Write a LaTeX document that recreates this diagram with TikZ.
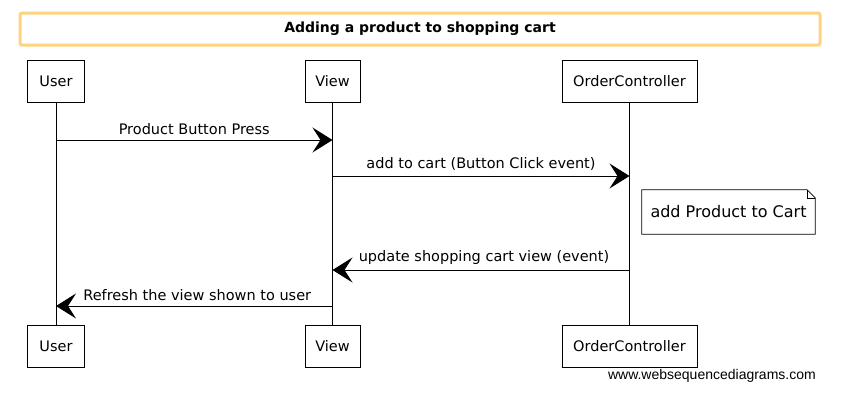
\documentclass[tikz,border=0pt]{standalone}
\usepackage{fontspec}
\setmainfont{DejaVu Sans}
\newfontfamily\wmfont{Liberation Sans}
\usetikzlibrary{arrows.meta,shapes.misc}
\definecolor{titleorange}{HTML}{FFD27F}
\tikzset{
  actor/.style={draw=black, line width=0.8pt, fill=white, minimum height=42pt, inner sep=0pt, font=\fontsize{14.5}{16}\selectfont},
  lifeline/.style={draw=black, line width=0.7pt},
  msg/.style={draw=black, line width=1pt, -{Stealth[length=20pt, width=25pt, inset=8pt]}},
  msglabel/.style={font=\fontsize{14.5}{17}\selectfont, inner sep=0pt},
}
\begin{document}
\begin{tikzpicture}[x=1pt,y=-1pt]
\useasboundingbox (0,0) rectangle (850,400);
% title
\node[draw=titleorange, line width=3pt, rounded corners=2pt, minimum width=800pt, minimum height=32pt, inner sep=0pt, font=\bfseries\fontsize{14}{16}\selectfont] (title) at (420,29) {Adding a product to shopping cart};
% participants
\node[actor, minimum width=57pt] (ut) at (56,81) {User};
\node[actor, minimum width=55pt] (vt) at (332.5,81) {View};
\node[actor, minimum width=135pt] (ot) at (629.5,81) {OrderController};
\node[actor, minimum width=57pt] (ub) at (56,346) {User};
\node[actor, minimum width=55pt] (vb) at (332.5,346) {View};
\node[actor, minimum width=135pt] (ob) at (629.5,346) {OrderController};
% lifelines
\draw[lifeline] (ut.south) -- (ub.north);
\draw[lifeline] (vt.south) -- (vb.north);
\draw[lifeline] (ot.south) -- (ob.north);
% message anchor coordinates
\coordinate (u1) at (ut.south |- 0,140);
\coordinate (v1) at (vt.south |- 0,140);
\coordinate (v2) at (vt.south |- 0,176);
\coordinate (o2) at (ot.south |- 0,176);
\coordinate (o4) at (ot.south |- 0,270);
\coordinate (v4) at (vt.south |- 0,270);
\coordinate (v5) at (vt.south |- 0,306);
\coordinate (u5) at (ut.south |- 0,306);
\draw[msg] (u1) -- node[msglabel, above=5pt] (l1) {Product Button Press} (v1);
\draw[msg] (v2) -- node[msglabel, above=5pt] (l2) {add to cart (Button Click event)} (o2);
\draw[msg] (o4) -- node[msglabel, above=5pt, xshift=3pt] (l4) {update shopping cart view (event)} (v4);
\draw[msg] (v5) -- node[msglabel, above=5pt, xshift=3pt] (l5) {Refresh the view shown to user} (u5);
% note
\node[font=\fontsize{16}{18}\selectfont, minimum width=173pt, minimum height=44pt, inner sep=0pt] (note) at (728.5,212) {add Product to Cart};
\draw[line width=0.8pt] (note.north west) -- ([xshift=-8pt]note.north east) -- ([yshift=-8pt]note.north east) -- (note.south east) -- (note.south west) -- cycle;
\draw[line width=0.6pt] ([xshift=-8pt]note.north east) -- ([xshift=-8pt,yshift=-8pt]note.north east) -- ([yshift=-8pt]note.north east);
% watermark
\node[font=\wmfont\fontsize{14}{16}\selectfont, anchor=east, inner sep=0pt] (wm) at (816,376) {www.websequencediagrams.com};
\end{tikzpicture}
\end{document}
